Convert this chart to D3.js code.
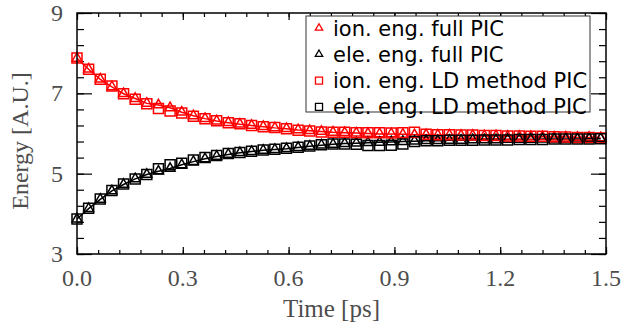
<!DOCTYPE html>
<html>
<head>
<meta charset="utf-8">
<script src="https://cdn.jsdelivr.net/npm/d3@7"></script>
<style>
  body { margin: 0; background: #fff; }
  svg { display: block; }
</style>
</head>
<body>
<div id="chart"></div>
<script>
// time samples (ps), one marker every 0.033 ps
var times = d3.range(46).map(function(k) { return +(k * 0.033).toFixed(3); });

var ionFull = [7.87, 7.60, 7.35, 7.16, 6.99, 6.87, 6.75, 6.71, 6.64, 6.53,
  6.44, 6.37, 6.31, 6.27, 6.23, 6.20, 6.17, 6.14, 6.12, 6.09,
  6.07, 6.05, 6.03, 6.02, 6.01, 6.00, 5.99, 5.99, 5.98, 5.97,
  5.97, 5.96, 5.96, 5.95, 5.95, 5.94, 5.94, 5.93, 5.93, 5.92,
  5.92, 5.91, 5.91, 5.90, 5.90, 5.89];
var eleFull = [3.87, 4.13, 4.36, 4.57, 4.73, 4.87, 4.98, 5.06, 5.13, 5.22,
  5.30, 5.37, 5.43, 5.48, 5.52, 5.55, 5.58, 5.60, 5.62, 5.65,
  5.68, 5.71, 5.73, 5.75, 5.76, 5.77, 5.78, 5.79, 5.80, 5.81,
  5.82, 5.82, 5.83, 5.83, 5.84, 5.84, 5.84, 5.85, 5.85, 5.85,
  5.86, 5.86, 5.86, 5.86, 5.87, 5.87];
var ionLD = [7.88, 7.60, 7.35, 7.18, 6.99, 6.85, 6.74, 6.62, 6.56, 6.51,
  6.43, 6.37, 6.32, 6.27, 6.24, 6.20, 6.17, 6.15, 6.12, 6.08,
  6.06, 6.04, 6.03, 6.03, 6.02, 6.02, 6.02, 6.01, 6.02, 6.03,
  5.98, 5.97, 5.97, 5.96, 5.96, 5.95, 5.95, 5.94, 5.94, 5.93,
  5.93, 5.92, 5.91, 5.90, 5.90, 5.89];
var eleLD = [3.87, 4.14, 4.37, 4.58, 4.74, 4.87, 4.98, 5.12, 5.22, 5.26,
  5.34, 5.40, 5.45, 5.50, 5.53, 5.56, 5.59, 5.61, 5.63, 5.66,
  5.69, 5.72, 5.74, 5.74, 5.73, 5.70, 5.70, 5.71, 5.74, 5.80,
  5.82, 5.82, 5.83, 5.83, 5.83, 5.84, 5.84, 5.84, 5.85, 5.85,
  5.85, 5.86, 5.86, 5.86, 5.86, 5.87];

var xTicks = [0, 0.3, 0.6, 0.9, 1.2, 1.5];
var yTicks = [3, 5, 7, 9];

var series = [
  {name: "ion. eng. full PIC", values: ionFull, color: "#ff0000", shape: "tri", line: true},
  {name: "ele. eng. full PIC", values: eleFull, color: "#000000", shape: "tri", line: true},
  {name: "ion. eng. LD method PIC", values: ionLD, color: "#ff0000", shape: "sq", line: false},
  {name: "ele. eng. LD method PIC", values: eleLD, color: "#000000", shape: "sq", line: false}
];

var W = 623, H = 327;
var margin = {top: 13, right: 17, bottom: 73, left: 77},
    width = W - margin.left - margin.right,
    height = H - margin.top - margin.bottom;

var svg = d3.select("#chart").append("svg")
    .attr("width", W)
    .attr("height", H)
  .append("g")
    .attr("transform", "translate(" + margin.left + "," + margin.top + ")");

var x = d3.scaleLinear().domain([0, 1.5]).range([0, width]);
var y = d3.scaleLinear().domain([3, 9]).range([height, 0]);

var serif = "'Liberation Serif', 'Times New Roman', serif";
var grey = "#4d4d4d";

// inward ticks on all four sides
function tickAxis(axis, ticks, size, transform) {
  var g = svg.append("g")
    .attr("transform", transform)
    .call(axis.tickValues(ticks).tickSize(size).tickFormat(""));
  g.select(".domain").remove();
  g.selectAll("line").attr("stroke", "#000").attr("stroke-width", 1.2);
}
var xMinor = d3.range(0, 1.5001, 0.06);
var yMinor = d3.range(3, 9.0001, 0.4);
tickAxis(d3.axisTop(x), xMinor, 4, "translate(0," + height + ")");
tickAxis(d3.axisTop(x), xTicks, 7, "translate(0," + height + ")");
tickAxis(d3.axisBottom(x), xMinor, 4, "translate(0,0)");
tickAxis(d3.axisBottom(x), xTicks, 7, "translate(0,0)");
tickAxis(d3.axisRight(y), yMinor, 7, "translate(0,0)");
tickAxis(d3.axisRight(y), yTicks, 15, "translate(0,0)");
tickAxis(d3.axisLeft(y), yMinor, 7, "translate(" + width + ",0)");
tickAxis(d3.axisLeft(y), yTicks, 15, "translate(" + width + ",0)");

// tick labels
svg.append("g").selectAll("text")
  .data(xTicks).enter().append("text")
    .attr("x", function(d) { return x(d); })
    .attr("y", height + 32)
    .attr("text-anchor", "middle")
    .style("font-family", serif)
    .style("font-size", "24px")
    .attr("fill", grey)
    .text(function(d) { return d3.format(".1f")(d); });

svg.append("g").selectAll("text")
  .data(yTicks).enter().append("text")
    .attr("x", -14)
    .attr("y", function(d) { return y(d) + 8; })
    .attr("text-anchor", "end")
    .style("font-family", serif)
    .style("font-size", "24px")
    .attr("fill", grey)
    .text(function(d) { return d; });

// axis titles
svg.append("text")
  .attr("x", width / 2 - 10)
  .attr("y", height + 63)
  .attr("text-anchor", "middle")
  .style("font-family", serif)
  .style("font-size", "25px")
  .attr("fill", grey)
  .text("Time [ps]");

svg.append("text")
  .attr("transform", "rotate(-90)")
  .attr("x", -128)
  .attr("y", -49)
  .attr("text-anchor", "middle")
  .style("font-family", serif)
  .style("font-size", "24px")
  .attr("fill", grey)
  .text("Energy [A.U.]");

function symbolPath(shape, big) {
  if (shape == "sq") return d3.symbol().type(d3.symbolSquare).size(big ? 100 : 50)();
  return d3.symbol().type(d3.symbolTriangle).size(big ? 42 : 24)();
}

// curves and markers
var line = d3.line()
  .x(function(d, i) { return x(times[i]); })
  .y(function(d) { return y(d); });

var plot = svg.append("g");
series.forEach(function(s) {
  if (s.line) {
    plot.append("path")
      .datum(s.values)
      .attr("fill", "none")
      .attr("stroke", s.color)
      .attr("stroke-width", 1.5)
      .attr("d", line);
  }
});
series.forEach(function(s) {
  plot.append("g").selectAll("path")
    .data(s.values).enter().append("path")
      .attr("transform", function(d, i) { return "translate(" + x(times[i]) + "," + y(d) + ")"; })
      .attr("d", symbolPath(s.shape, true))
      .attr("fill", "none")
      .attr("stroke", s.color)
      .attr("stroke-width", 1.5);
});

// frame
svg.append("rect")
  .attr("width", width)
  .attr("height", height)
  .attr("fill", "none")
  .attr("stroke", "#000")
  .attr("stroke-width", 1.5);

// legend
var legend = svg.append("g").attr("transform", "translate(" + (306 - margin.left) + "," + (16 - margin.top) + ")");
legend.append("rect")
  .attr("width", 284)
  .attr("height", 96)
  .attr("fill", "#fff")
  .attr("stroke", "#333")
  .attr("stroke-width", 1);
series.forEach(function(s, i) {
  var row = legend.append("g").attr("transform", "translate(0," + (12 + i * 26.3) + ")");
  row.append("path")
    .attr("transform", "translate(13,0)")
    .attr("d", symbolPath(s.shape, false))
    .attr("fill", "none")
    .attr("stroke", s.color)
    .attr("stroke-width", 1.3);
  row.append("text")
    .attr("x", 27)
    .attr("y", 7.5)
    .style("font-family", "'DejaVu Sans', sans-serif")
    .style("font-size", "21px")
    .attr("fill", "#000")
    .text(s.name);
});
</script>
</body>
</html>
